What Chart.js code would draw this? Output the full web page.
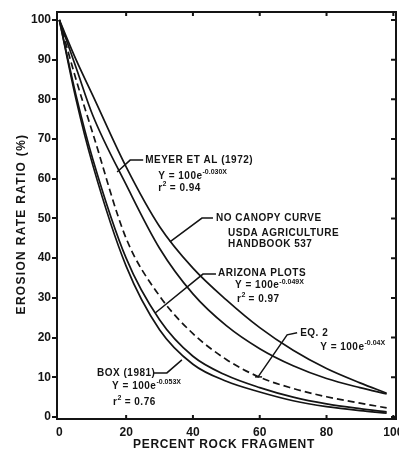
<!DOCTYPE html>
<html>
<head>
<meta charset="utf-8">
<script src="https://cdn.jsdelivr.net/npm/chart.js@4.4.0/dist/chart.umd.min.js"></script>
<style>
  html, body { margin: 0; padding: 0; background: #fff; }
</style>
</head>
<body>
<canvas id="chart" width="399" height="451"></canvas>
<script>
// percent rock fragment (x) and erosion rate ratio (%)
const rockPct   = [0, 5, 10, 20, 30, 40, 50, 60, 70, 80, 90, 98]
const noCanopy  = [100, 90, 81, 63, 48, 37.5, 29.5, 22.5, 16.8, 12.2, 8.6, 6.0]
const meyer     = [100, 88, 76, 58.5, 42.5, 31, 23, 17.2, 12.9, 9.7, 7.4, 5.8]
const eq2       = [100, 85, 71.5, 45, 30.5, 21, 14.5, 10, 7.2, 5.1, 3.5, 2.3]
const arizona   = [100, 81, 65, 40, 24.5, 15.3, 10.5, 7.4, 5, 3.3, 2.1, 1.3]
const box       = [100, 80, 63.5, 38, 22, 13.3, 9, 6.3, 4.1, 2.6, 1.6, 1.0]

const xTicks = [0, 20, 40, 60, 80, 100]
const yTicks = [0, 10, 20, 30, 40, 50, 60, 70, 80, 90, 100]

const xTitle = 'PERCENT ROCK FRAGMENT'
const yTitle = 'EROSION RATE RATIO (%)'

// text notes on the plot, placed in data units
const notes = [
  {x: 25.7, y: 64.7, parts: [['MEYER ET AL (1972)']]},
  {x: 29.6, y: 60.7, parts: [['Y = 100e'], ['-0.030X', 1]]},
  {x: 29.6, y: 57.6, parts: [['r'], ['2', 1], [' = 0.94']]},
  {x: 46.9, y: 50.1, parts: [['NO CANOPY CURVE']]},
  {x: 50.5, y: 46.3, parts: [['USDA AGRICULTURE']]},
  {x: 50.5, y: 43.5, parts: [['HANDBOOK 537']]},
  {x: 47.5, y: 36.2, parts: [['ARIZONA PLOTS']]},
  {x: 52.6, y: 33.1, parts: [['Y = 100e'], ['-0.049X', 1]]},
  {x: 53.2, y: 29.6, parts: [['r'], ['2', 1], [' = 0.97']]},
  {x: 72.1, y: 21.2, parts: [['EQ. 2']]},
  {x: 78.1, y: 17.5, parts: [['Y = 100e'], ['-0.04X', 1]]},
  {x: 11.3, y: 11.1, parts: [['BOX (1981)']]},
  {x: 15.8, y: 7.8, parts: [['Y = 100e'], ['-0.053X', 1]]},
  {x: 16.1, y: 3.8, parts: [['r'], ['2', 1], [' = 0.76']]},
]

const leaders = [
  [[17.3, 61.7], [21.2, 64.7], [25.1, 64.7]],
  [[33.1, 44.1], [42.7, 50.1], [46.0, 50.1]],
  [[28.7, 26.2], [43.0, 36.0], [46.9, 36.0]],
  [[59.5, 10.1], [68.2, 20.7], [71.2, 21.2]],
  [[58.6, 10.1], [60.7, 10.1]],
  [[28.1, 11.1], [32.2, 11.1], [36.7, 14.4]],
]

const INK = '#141414'
const FAMILY = '"Liberation Sans", Arial, sans-serif'

const pts = ys => rockPct.map((x, i) => ({x, y: ys[i]}))

const curve = (label, ys, dash) => ({
  label,
  data: pts(ys),
  borderColor: INK,
  borderWidth: 1.7,
  borderDash: dash || [],
  pointRadius: 0,
  fill: false,
  cubicInterpolationMode: 'monotone',
})

const decorations = {
  id: 'decorations',
  afterDraw(chart) {
    const {ctx, chartArea: a, scales: {x, y}} = chart
    ctx.save()
    ctx.strokeStyle = INK
    ctx.fillStyle = INK

    // frame and inward ticks
    ctx.lineWidth = 2
    ctx.strokeRect(a.left, a.top, a.right - a.left, a.bottom - a.top)
    ctx.beginPath()
    xTicks.forEach(v => {
      if (v === 0) return
      const px = x.getPixelForValue(v)
      ctx.moveTo(px, a.top); ctx.lineTo(px, a.top + 4)
      ctx.moveTo(px, a.bottom); ctx.lineTo(px, a.bottom - 4)
    })
    yTicks.forEach(v => {
      const py = y.getPixelForValue(v)
      ctx.moveTo(a.right, py); ctx.lineTo(a.right - 5, py)
    })
    ctx.stroke()

    // leader lines
    ctx.lineWidth = 1.5
    leaders.forEach(line => {
      ctx.beginPath()
      line.forEach(([vx, vy], i) => {
        const px = x.getPixelForValue(vx), py = y.getPixelForValue(vy)
        i ? ctx.lineTo(px, py) : ctx.moveTo(px, py)
      })
      ctx.stroke()
    })

    // notes
    ctx.textBaseline = 'middle'
    ctx.textAlign = 'left'
    notes.forEach(n => {
      let px = x.getPixelForValue(n.x)
      const py = y.getPixelForValue(n.y)
      n.parts.forEach(([t, sup]) => {
        ctx.font = sup ? 'bold 7px ' + FAMILY : 'bold 10px ' + FAMILY
        ctx.letterSpacing = sup ? '0px' : '0.5px'
        ctx.fillText(t, px, sup ? py - 4 : py)
        px += ctx.measureText(t).width
      })
    })

    // axis titles
    ctx.font = 'bold 12px ' + FAMILY
    ctx.textAlign = 'center'
    ctx.letterSpacing = '0.7px'
    ctx.fillText(xTitle, 224, 445)
    ctx.save()
    ctx.translate(22, 224)
    ctx.rotate(-Math.PI / 2)
    ctx.letterSpacing = '1.3px'
    ctx.fillText(yTitle, 0, 0)
    ctx.restore()

    ctx.restore()
  }
}

new Chart(document.getElementById('chart'), {
  type: 'line',
  data: {
    datasets: [
      curve('No canopy curve', noCanopy),
      curve('Meyer et al (1972)', meyer),
      curve('Eq. 2', eq2, [7, 4]),
      curve('Arizona plots', arizona),
      curve('Box (1981)', box),
    ]
  },
  options: {
    responsive: false,
    animation: false,
    layout: {padding: {left: 0, top: 12, right: 3, bottom: 0}},
    plugins: {legend: {display: false}, tooltip: {enabled: false}},
    scales: {
      x: {
        type: 'linear',
        min: -0.7,
        max: 100.8,
        afterBuildTicks: s => { s.ticks = xTicks.map(value => ({value})) },
        afterFit: s => { s.height = 32; s.paddingLeft = 0; s.paddingRight = 0 },
        grid: {display: false, drawTicks: false},
        border: {display: false},
        ticks: {
          color: INK,
          padding: 6,
          maxRotation: 0,
          autoSkip: false,
          font: {family: FAMILY, size: 12, weight: 'bold'},
        },
      },
      y: {
        type: 'linear',
        min: -0.5,
        max: 102,
        afterBuildTicks: s => { s.ticks = yTicks.map(value => ({value})) },
        afterFit: s => { s.width = 57; s.paddingTop = 0; s.paddingBottom = 0 },
        grid: {drawOnChartArea: false, drawTicks: true, tickLength: 5, color: INK, lineWidth: 2},
        border: {display: false},
        ticks: {
          color: INK,
          padding: 1,
          font: {family: FAMILY, size: 12, weight: 'bold'},
        },
      },
    },
  },
  plugins: [decorations],
})
</script>
</body>
</html>
